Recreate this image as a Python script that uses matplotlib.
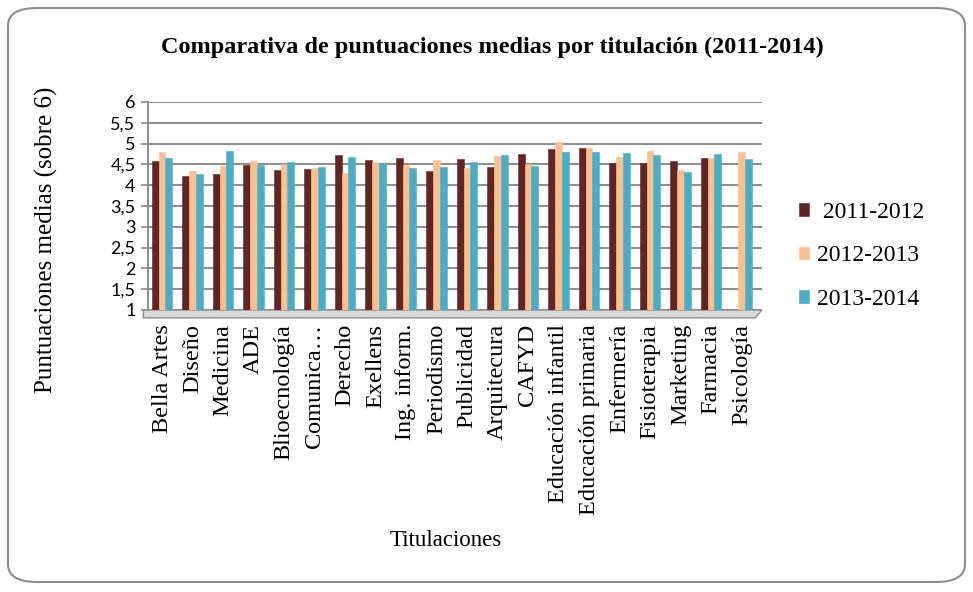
import matplotlib

matplotlib.use("Agg")
import matplotlib.pyplot as plt
import numpy as np
from matplotlib.patches import FancyBboxPatch, Polygon
from matplotlib.ticker import FixedLocator, FuncFormatter

# values
titulaciones = [
    "Bella Artes", "Diseño", "Medicina", "ADE", "Blioecnología",
    "Comunica…", "Derecho", "Exellens", "Ing. inform.", "Periodismo",
    "Publicidad", "Arquitecura", "CAFYD", "Educación infantil",
    "Educación primaria", "Enfermería", "Fisioterapia", "Marketing",
    "Farmacia", "Psicología",
]
curso_2011_2012 = [4.57, 4.21, 4.28, 4.48, 4.37, 4.40, 4.73, 4.60, 4.65, 4.33,
                   4.63, 4.44, 4.75, 4.87, 4.89, 4.53, 4.53, 4.59, 4.65, 1.00]
curso_2012_2013 = [4.79, 4.33, 4.45, 4.57, 4.52, 4.41, 4.29, 4.55, 4.48, 4.61,
                   4.41, 4.71, 4.52, 5.05, 4.89, 4.67, 4.83, 4.37, 4.65, 4.79]
curso_2013_2014 = [4.65, 4.27, 4.83, 4.49, 4.56, 4.44, 4.67, 4.53, 4.42, 4.44,
                   4.55, 4.73, 4.45, 4.81, 4.79, 4.78, 4.72, 4.32, 4.74, 4.63]
series_labels = [" 2011-2012", "2012-2013", "2013-2014"]
y_ticks = [1, 1.5, 2, 2.5, 3, 3.5, 4, 4.5, 5, 5.5, 6]

colors = ["#632523", "#FAC090", "#4BACC6"]
serif = "Liberation Serif"
sans = "Lato"

W, H = 973, 592
fig = plt.figure(figsize=(W / 100, H / 100), dpi=100)

# rounded chart border
border = FancyBboxPatch(
    (8 / W, 1 - 582 / H), (965 - 8) / W, (582 - 8) / H,
    boxstyle="round,pad=0,rounding_size=0.03", transform=fig.transFigure,
    facecolor="none", edgecolor="#8c8c8c", linewidth=1.5, zorder=-1,
)
fig.patches.append(border)

ax = fig.add_axes([148 / W, 1 - 310 / H, (762 - 148) / W, (310 - 102) / H])
ax.set_facecolor("none")

x = np.arange(len(titulaciones))
bw = 0.22
for k, (vals, lab) in enumerate(zip([curso_2011_2012, curso_2012_2013, curso_2013_2014], series_labels)):
    vals = np.asarray(vals)
    ax.bar(x + (k - 1) * bw, vals - 1, bottom=1, width=bw, color=colors[k],
           edgecolor=colors[k], linewidth=0.4, label=lab, zorder=3)

ax.set_ylim(1, 6)
ax.set_xlim(-(162 - 148) / 30.5, (762 - 162) / 30.5)
ax.yaxis.set_major_locator(FixedLocator(y_ticks))
ax.yaxis.set_major_formatter(FuncFormatter(lambda v, p: f"{v:g}".replace(".", ",")))
ax.yaxis.grid(True, color="#8c8c8c", linewidth=1.4, zorder=1)
ax.set_axisbelow(True)

for side in ("top", "right", "bottom"):
    ax.spines[side].set_visible(False)
ax.spines["left"].set_color("#8c8c8c")
ax.spines["left"].set_linewidth(1.4)

ax.tick_params(axis="y", length=5, width=1.2, color="#8c8c8c", pad=4, labelsize=13)
for t in ax.get_yticklabels():
    t.set_fontfamily(sans)
ax.set_xticks(x)
ax.set_xticklabels(titulaciones, rotation=90, fontfamily=serif, fontsize=17.5)
ax.tick_params(axis="x", length=0, pad=10)

# 3d-looking floor strip
ax.add_patch(Polygon(
    [(-0.6, 1), (19.67, 1), (19.45, 0.81), (-0.62, 0.81)], closed=True,
    transform=ax.transData, facecolor="#d9d9d9", edgecolor="#8c8c8c",
    linewidth=1.0, clip_on=False, zorder=2,
))

fig.text(492 / W, 1 - 47 / H, "Comparativa de puntuaciones medias por titulación (2011-2014)",
         ha="center", va="center", fontfamily=serif, fontweight="bold", fontsize=17.5)
fig.text(46 / W, 1 - 240 / H, "Puntuaciones medias (sobre 6)", rotation=90,
         ha="center", va="center", fontfamily=serif, fontsize=18)
fig.text(446 / W, 1 - 540 / H, "Titulaciones", ha="center", va="center",
         fontfamily=serif, fontsize=16.5)

handles, labels = ax.get_legend_handles_labels()
fig.legend(handles, labels, loc="center left", bbox_to_anchor=(787 / W, 1 - 256 / H),
           frameon=False, prop={"family": serif, "size": 17}, handlelength=0.45,
           handleheight=0.45, handletextpad=0.3, labelspacing=0.95, borderpad=0)

fig.savefig("out.png", dpi=100)
